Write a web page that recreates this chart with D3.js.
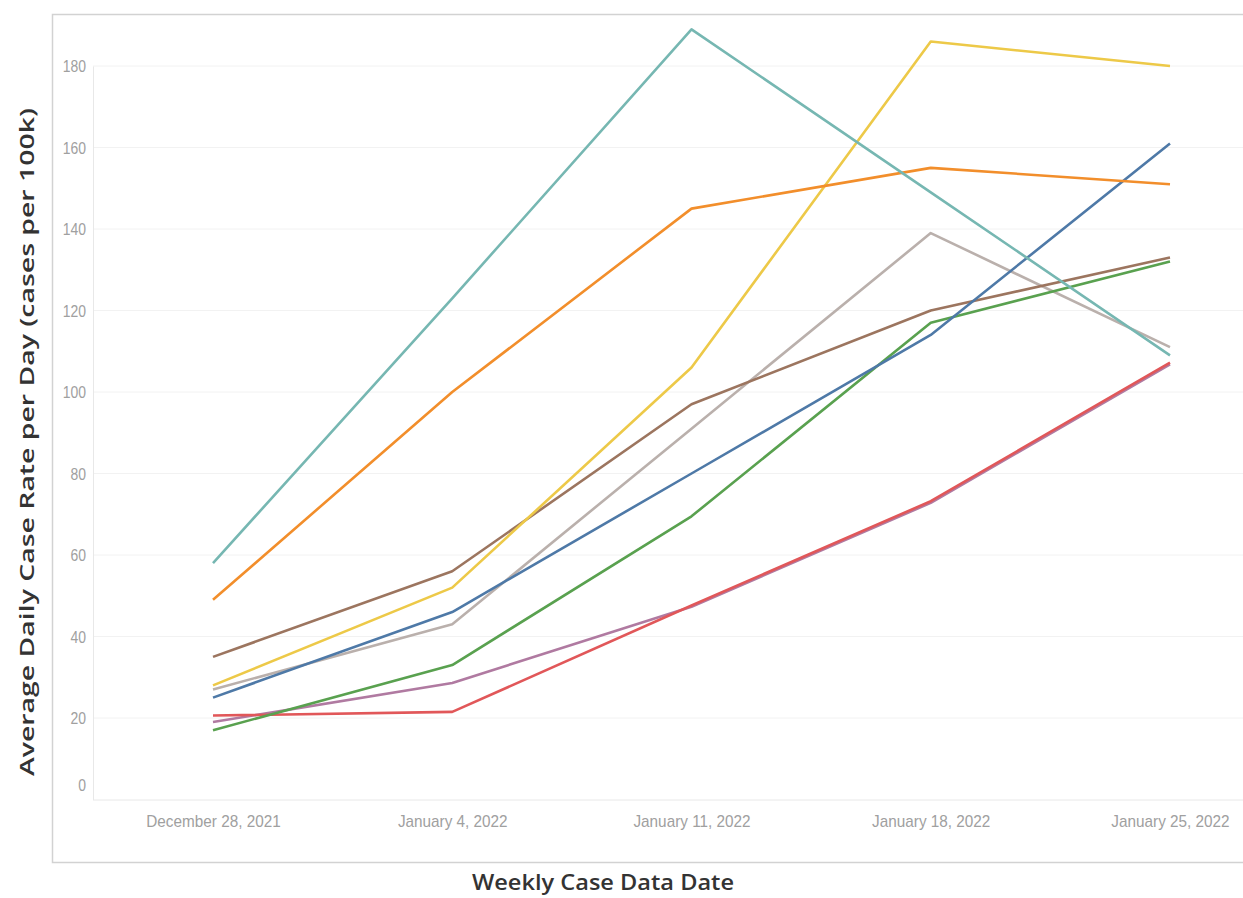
<!DOCTYPE html>
<html><head><meta charset="utf-8">
<script src="https://cdn.jsdelivr.net/npm/d3@7"></script>
<style>body{margin:0;background:#fff;}svg{display:block;}</style>
</head><body>
<svg id="c" width="1243" height="898"></svg>
<script>
const dates = ["December 28, 2021","January 4, 2022","January 11, 2022","January 18, 2022","January 25, 2022"];
const yTicks = [0,20,40,60,80,100,120,140,160,180];
const tealVals   = [58, 123, 189, 149, 109];
const orangeVals = [49, 100, 145, 155, 151];
const yellowVals = [28, 52, 106, 186, 180];
const brownVals  = [35, 56, 97, 120, 133];
const blueVals   = [25, 46, 80, 114, 161];
const grayVals   = [27, 43, 91, 139, 111];
const greenVals  = [17, 33, 69.5, 117, 132];
const purpleVals = [19, 28.6, 47.3, 72.8, 106.8];
const redVals    = [20.6, 21.5, 47.6, 73.2, 107.2];
const series = [
  {name:"gray", values:grayVals, color:"#bab0ac"},
  {name:"purple", values:purpleVals, color:"#b07aa1"},
  {name:"red", values:redVals, color:"#e15759"},
  {name:"green", values:greenVals, color:"#59a14f"},
  {name:"brown", values:brownVals, color:"#9c755f"},
  {name:"blue", values:blueVals, color:"#4e79a7"},
  {name:"yellow", values:yellowVals, color:"#edc948"},
  {name:"orange", values:orangeVals, color:"#f28e2b"},
  {name:"teal", values:tealVals, color:"#76b7b2"}
];
const svg = d3.select("#c");
// frame
svg.append("rect").attr("x",52.5).attr("y",14.5).attr("width",1200).attr("height",848)
  .attr("fill","#fff").attr("stroke","#d2d2d2").attr("stroke-width",1.5);
const x = d3.scalePoint().domain(dates).range([213,1170]);
const y = d3.scaleLinear().domain([0,180]).range([799.5,66]);
const plotL = 93, plotR = 1243, plotB = 800;
// gridlines
svg.append("g").selectAll("line").data(yTicks.filter(d=>d>0)).join("line")
  .attr("x1",plotL).attr("x2",plotR).attr("y1",d=>y(d)).attr("y2",d=>y(d))
  .attr("stroke","#f2f2f2").attr("stroke-width",1);
const tickFont = "'Liberation Sans',Arial,sans-serif";
// y axis
const ya = svg.append("g").attr("transform",`translate(${plotL},0)`)
  .call(d3.axisLeft(y).tickValues(yTicks).tickSize(0).tickPadding(7));
ya.select(".domain").attr("stroke","#e8e8e8");
ya.selectAll("text").attr("fill","#a0a0a0").style("font-family",tickFont).style("font-size","17px")
  .attr("dy",d=>d===0?"-0.55em":"0.35em")
  .each(function(){ const w=this.getComputedTextLength(); d3.select(this).attr("textLength",w*0.82).attr("lengthAdjust","spacingAndGlyphs"); });
// x axis
const xa = svg.append("g").attr("transform",`translate(0,${plotB})`)
  .call(d3.axisBottom(x).tickSize(0).tickPadding(15));
xa.select(".domain").attr("d",`M${plotL},0H${plotR}`).attr("stroke","#e8e8e8");
xa.selectAll("text").attr("fill","#a0a0a0").style("font-family",tickFont).style("font-size","17px")
  .each(function(){ const w=this.getComputedTextLength(); d3.select(this).attr("textLength",w*0.9).attr("lengthAdjust","spacingAndGlyphs"); });
// lines
const line = d3.line().x((d,i)=>x(dates[i])).y(d=>y(d));
svg.append("g").selectAll("path").data(series).join("path")
  .attr("d",d=>line(d.values)).attr("fill","none").attr("stroke",d=>d.color)
  .attr("stroke-width",2.6).attr("stroke-linejoin","round");
// axis titles
svg.append("text").attr("transform","translate(34,442) rotate(-90)").attr("text-anchor","middle")
  .style("font-family","'Open Sans',sans-serif").style("font-weight","600").style("font-size","20px").attr("fill","#333")
  .attr("textLength",668).attr("lengthAdjust","spacingAndGlyphs")
  .text("Average Daily Case Rate per Day (cases per 100k)");
svg.append("text").attr("x",603).attr("y",890).attr("text-anchor","middle")
  .style("font-family","'Open Sans',sans-serif").style("font-weight","600").style("font-size","22px").attr("fill","#333")
  .attr("textLength",262).attr("lengthAdjust","spacingAndGlyphs")
  .text("Weekly Case Data Date");
</script>
</body></html>
